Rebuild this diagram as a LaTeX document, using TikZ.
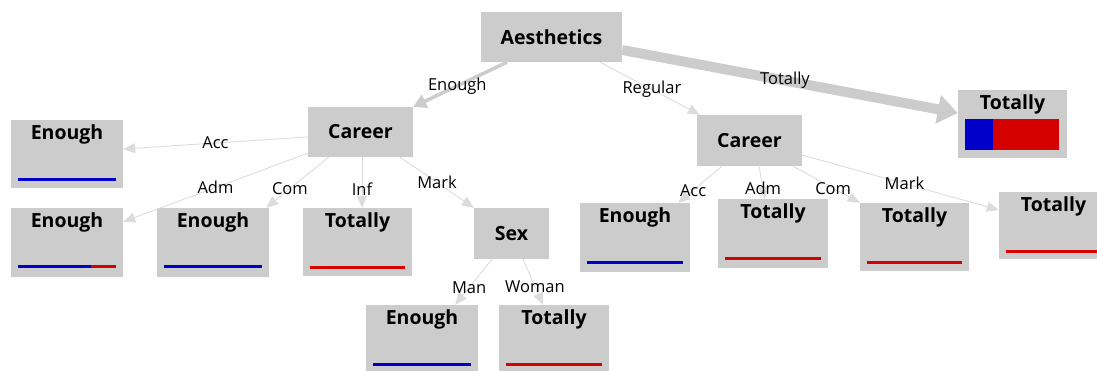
\documentclass[tikz,border=0pt]{standalone}
\usepackage{fontspec}
\setmainfont{Open Sans}
\usetikzlibrary{arrows.meta}
\definecolor{boxgray}{RGB}{204,204,204}
\definecolor{edgegray}{RGB}{220,220,220}
\definecolor{barblue}{RGB}{0,0,200}
\definecolor{barred}{RGB}{213,0,0}

\begin{document}
\begin{tikzpicture}[x=1pt,y=-1pt,
  inner/.style={fill=boxgray,minimum height=50pt,font=\fontsize{19.5}{21}\selectfont\bfseries},
  leaf/.style={fill=boxgray,minimum width=110pt,minimum height=69pt},
  title/.style={font=\fontsize{19.5}{21}\selectfont\bfseries,inner sep=0pt,anchor=base},
  edge/.style={draw=edgegray,line width=0.9pt,-{Triangle[length=12pt,width=10pt]}},
  lbl/.style={font=\fontsize{16.5}{18}\selectfont,inner sep=1pt},
  bar/.style={line width=3pt}]
  \useasboundingbox (0,0) rectangle (1097,370);
  \clip (0,0) rectangle (1097,370);

  % split nodes
  \node[inner,minimum width=141pt] (aes) at (551.5,37) {Aesthetics};
  \node[inner,minimum width=105pt] (carL) at (360.5,132) {Career};
  \node[inner,minimum width=105pt,minimum height=51pt] (carR) at (749.5,140.5) {Career};
  \node[inner,minimum width=75pt,minimum height=51pt] (sex) at (511.5,233.5) {Sex};

  % leaves
  \node[leaf,minimum width=112pt,minimum height=68pt] (enA) at (67,154) {};
  \node[leaf,minimum width=112pt] (enB) at (67,242.5) {};
  \node[leaf,minimum width=112pt] (enC) at (213,242.5) {};
  \node[leaf,minimum width=109pt,minimum height=68pt] (toInf) at (357.5,242) {};
  \node[leaf,minimum width=112pt,minimum height=70pt] (enMan) at (422,340) {};
  \node[leaf,minimum height=70pt] (toWoman) at (554,340) {};
  \node[leaf] (enRacc) at (635,237.5) {};
  \node[leaf] (toRadm) at (773,233.5) {};
  \node[leaf,minimum width=109pt,minimum height=68pt] (toRcom) at (914.5,237) {};
  \node[leaf,minimum width=109pt,minimum height=67pt] (toRmark) at (1053.5,225.5) {};
  \node[leaf,minimum width=109pt,minimum height=68pt] (toTop) at (1012.5,124) {};

  \node[title] (enA-t) at ([yshift=-20pt]enA.north) {Enough};
  \node[title] (enB-t) at ([yshift=-20pt]enB.north) {Enough};
  \node[title] (enC-t) at ([yshift=-20pt]enC.north) {Enough};
  \node[title] (toInf-t) at ([yshift=-20pt]toInf.north) {Totally};
  \node[title] (enMan-t) at ([yshift=-20pt]enMan.north) {Enough};
  \node[title] (toWoman-t) at ([yshift=-20pt]toWoman.north) {Totally};
  \node[title] (enRacc-t) at ([yshift=-20pt]enRacc.north) {Enough};
  \node[title] (toRadm-t) at ([yshift=-20pt]toRadm.north) {Totally};
  \node[title] (toRcom-t) at ([yshift=-20pt]toRcom.north) {Totally};
  \node[title] (toRmark-t) at ([yshift=-20pt]toRmark.north) {Totally};
  \node[title] (toTop-t) at ([yshift=-20pt]toTop.north) {Totally};

  % class bars
  \draw[bar,barblue] ([shift={(7pt,9pt)}]enA.south west) -- ([shift={(-7pt,9pt)}]enA.south east);
  \draw[bar,barblue] ([shift={(7pt,11pt)}]enB.south west) -- ([shift={(80pt,11pt)}]enB.south west);
  \draw[bar,barred] ([shift={(80pt,11pt)}]enB.south west) -- ([shift={(-7pt,11pt)}]enB.south east);
  \draw[bar,barblue] ([shift={(7pt,11pt)}]enC.south west) -- ([shift={(-7pt,11pt)}]enC.south east);
  \draw[bar,barred] ([shift={(7pt,9pt)}]toInf.south west) -- ([shift={(-7pt,9pt)}]toInf.south east);
  \draw[bar,barblue] ([shift={(7pt,11pt)}]enMan.south west) -- ([shift={(-7pt,11pt)}]enMan.south east);
  \draw[bar,barred] ([shift={(7pt,11pt)}]toWoman.south west) -- ([shift={(-7pt,11pt)}]toWoman.south east);
  \draw[bar,barblue] ([shift={(7pt,10pt)}]enRacc.south west) -- ([shift={(-7pt,10pt)}]enRacc.south east);
  \draw[bar,barred] ([shift={(7pt,10pt)}]toRadm.south west) -- ([shift={(-7pt,10pt)}]toRadm.south east);
  \draw[bar,barred] ([shift={(7pt,9pt)}]toRcom.south west) -- ([shift={(-7pt,9pt)}]toRcom.south east);
  \draw[bar,barred] ([shift={(7pt,8pt)}]toRmark.south west) -- ([shift={(-7pt,8pt)}]toRmark.south east);
  \fill[barblue] ([shift={(7pt,8pt)}]toTop.south west) rectangle ([shift={(35pt,39pt)}]toTop.south west);
  \fill[barred] ([shift={(35pt,8pt)}]toTop.south west) rectangle ([shift={(-8pt,39pt)}]toTop.south east);

  % edges
  \draw[edge,draw=boxgray,line width=3.5pt,-{Triangle[length=13pt,width=14pt]}]
    ([xshift=-44.5pt]aes.south) -- node[lbl,pos=0.53] {Enough} (carL.north east);
  \draw[edge] ([xshift=48.5pt]aes.south) -- node[lbl,pos=0.52] {Regular} ([xshift=3pt]carR.north west);
  \draw[edge,draw=boxgray,line width=10pt,-{Triangle[length=20pt,width=28pt]}]
    ([yshift=-13pt]aes.east) -- node[lbl,pos=0.485] {Totally} ([yshift=11pt]toTop.west);
  \draw[edge] ([yshift=-5pt]carL.west) -- node[lbl,pos=0.5] {Acc} ([yshift=5pt]enA.east);
  \draw[edge] ([yshift=4pt]carL.south west) -- node[lbl,pos=0.5] {Adm} ([yshift=-14pt]enB.north east);
  \draw[edge] ([xshift=-32pt]carL.south) -- node[lbl,pos=0.62] {Com} ([xshift=-3pt]enC.north east);
  \draw[edge] ([xshift=1.5pt]carL.south) -- node[lbl,pos=0.63] {Inf} ([xshift=4.5pt]toInf.north);
  \draw[edge] ([xshift=-13pt]carL.south east) -- node[lbl,pos=0.5] {Mark} (sex.north west);
  \draw[edge] ([xshift=-19.5pt]sex.south) -- node[lbl,pos=0.62] {Man} ([xshift=-23pt]enMan.north east);
  \draw[edge] ([xshift=11.5pt]sex.south) -- node[lbl,pos=0.6] {Woman} ([xshift=-11pt]toWoman.north);
  \draw[edge] ([xshift=-27.5pt]carR.south) -- node[lbl,pos=0.66] {Acc} ([xshift=-12pt]enRacc.north east);
  \draw[edge] ([xshift=9.5pt]carR.south) -- node[lbl,pos=0.67] {Adm} ([xshift=-8pt]toRadm.north);
  \draw[edge] ([xshift=-9pt]carR.south east) -- node[lbl,pos=0.6] {Com} (toRcom.north west);
  \draw[edge] ([yshift=-14.5pt]carR.east) -- node[lbl,pos=0.52] {Mark} ([yshift=15.5pt]toRmark.west);
\end{tikzpicture}
\end{document}
